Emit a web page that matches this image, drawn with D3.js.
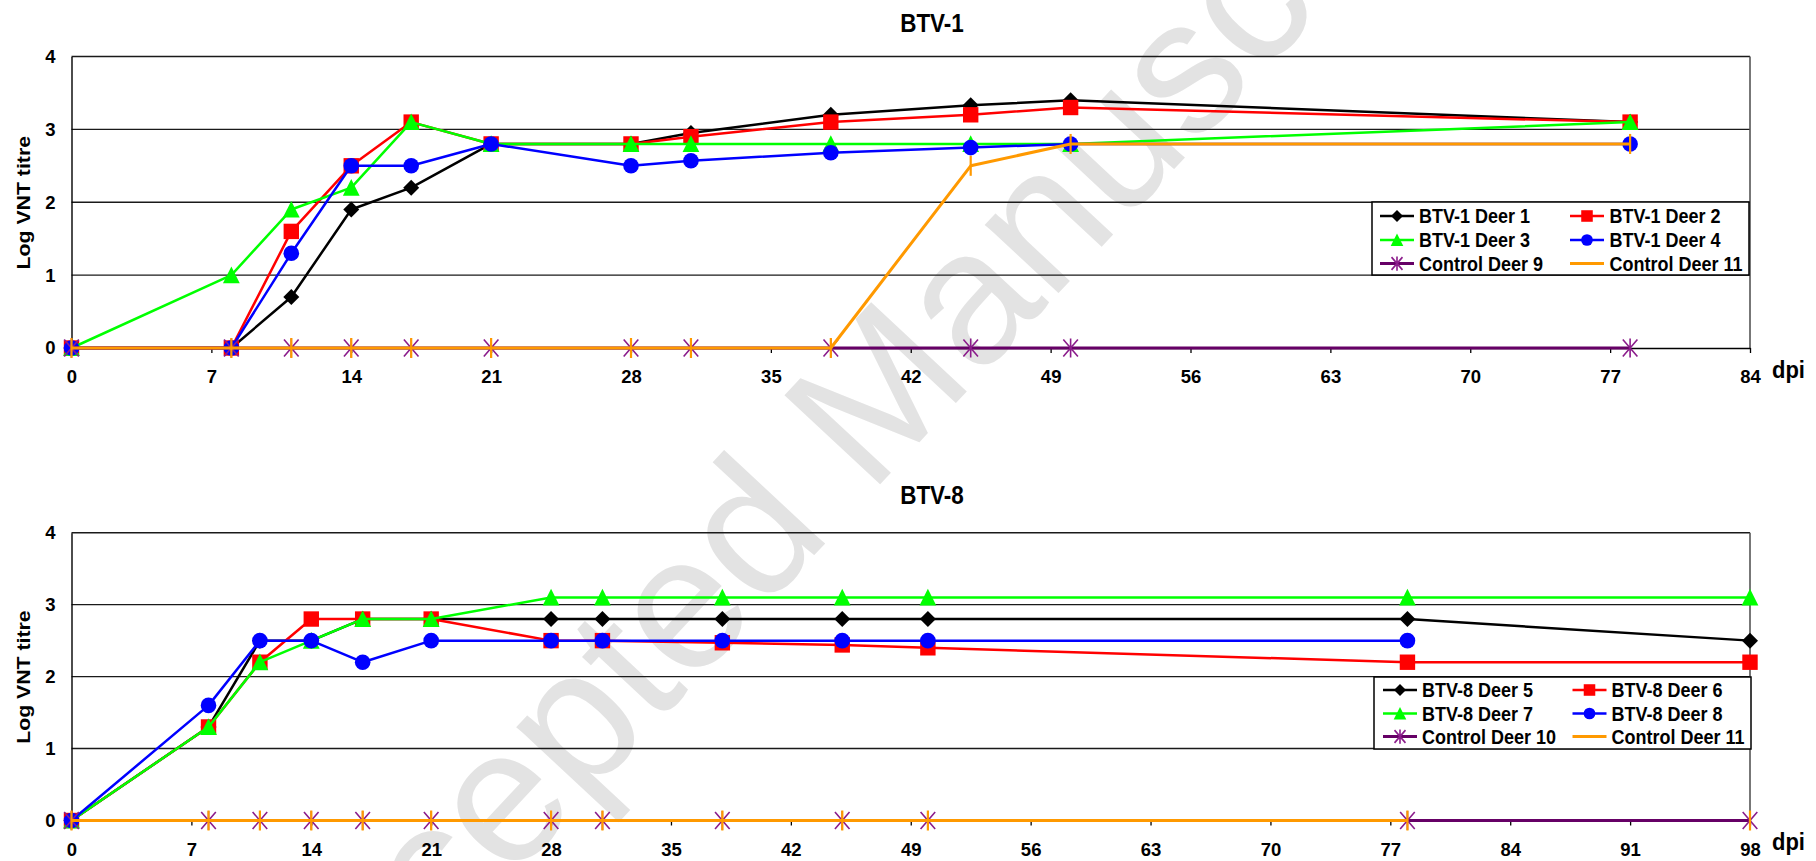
<!DOCTYPE html>
<html>
<head>
<meta charset="utf-8">
<script src="https://cdn.jsdelivr.net/npm/d3@7/dist/d3.min.js"></script>
<style>
  html, body { margin: 0; padding: 0; background: #ffffff; }
  svg { display: block; }
  text { font-family: "Liberation Sans", Arial, sans-serif; font-weight: bold; fill: #000; }
</style>
</head>
<body>
<svg id="chart" width="1816" height="861"></svg>
<script>
// ---------- BTV-1 panel: sampling days (dpi) and log VNT titres ----------
const btv1Days      = [0, 8, 11, 14, 17, 21, 28, 31, 38, 45, 50, 78];
const btv1Deer1     = [0, 0, 0.7, 1.9, 2.2, 2.8, 2.8, 2.95, 3.2, 3.33, 3.4, 3.1];
const btv1Deer2     = [0, 0, 1.6, 2.5, 3.1, 2.8, 2.8, 2.9, 3.1, 3.2, 3.3, 3.1];
const btv1Deer3     = [0, 1.0, 1.9, 2.2, 3.1, 2.8, 2.8, 2.8, 2.8, 2.8, 2.8, 3.1];
const btv1Deer4     = [0, 0, 1.3, 2.5, 2.5, 2.8, 2.5, 2.57, 2.68, 2.75, 2.8, 2.8];
const btv1Control9  = [0, 0, 0, 0, 0, 0, 0, 0, 0, 0, 0, 0];
const btv1Control11 = [0, 0, 0, 0, 0, 0, 0, 0, 0, 2.5, 2.8, 2.8];
const btv1XTicks    = [0, 7, 14, 21, 28, 35, 42, 49, 56, 63, 70, 77, 84];

// ---------- BTV-8 panel ----------
const btv8Days      = [0, 8, 11, 14, 17, 21, 28, 31, 38, 45, 50, 78, 98];
const btv8Deer5     = [0, 1.3, 2.5, 2.5, 2.8, 2.8, 2.8, 2.8, 2.8, 2.8, 2.8, 2.8, 2.5];
const btv8Deer6     = [0, 1.3, 2.2, 2.8, 2.8, 2.8, 2.5, 2.5, 2.47, 2.44, 2.4, 2.2, 2.2];
const btv8Deer7     = [0, 1.3, 2.2, 2.5, 2.8, 2.8, 3.1, 3.1, 3.1, 3.1, 3.1, 3.1, 3.1];
const btv8Deer8     = [0, 1.6, 2.5, 2.5, 2.2, 2.5, 2.5, 2.5, 2.5, 2.5, 2.5, 2.5, null];
const btv8Control10 = [0, 0, 0, 0, 0, 0, 0, 0, 0, 0, 0, 0, 0];
const btv8Control11 = [0, 0, 0, 0, 0, 0, 0, 0, 0, 0, 0, 0, 0];
const btv8XTicks    = [0, 7, 14, 21, 28, 35, 42, 49, 56, 63, 70, 77, 84, 91, 98];

const yTicks = [0, 1, 2, 3, 4];

// ---------- series styling ----------
const BLACK = "#000000", RED = "#ff0000", GREEN = "#00ff00", BLUE = "#0000ff";
const PURPLE_LINE = "#660066", PURPLE_MARK = "#8b1c8b", ORANGE = "#ff9900";

const panels = [
  {
    title: "BTV-1",
    days: btv1Days,
    xMax: 84,
    xTicks: btv1XTicks,
    top: 56.5, bottom: 348,
    titleY: 31.5,
    labelBaseline: 383,
    series: [
      { name: "BTV-1 Deer 1",     values: btv1Deer1,     color: BLACK,  marker: "diamond" },
      { name: "BTV-1 Deer 2",     values: btv1Deer2,     color: RED,    marker: "square" },
      { name: "BTV-1 Deer 3",     values: btv1Deer3,     color: GREEN,  marker: "triangle" },
      { name: "BTV-1 Deer 4",     values: btv1Deer4,     color: BLUE,   marker: "circle" },
      { name: "Control Deer 9",   values: btv1Control9,  color: PURPLE_LINE, markColor: PURPLE_MARK, marker: "asterisk", width: 3 },
      { name: "Control Deer 11",  values: btv1Control11, color: ORANGE, marker: "bar", width: 3 }
    ],
    legend: { x: 1372, y: 202, w: 377, h: 73, rowY: [216, 240, 263.5], colLine: [1380, 1570], colText: [1419, 1609.5] }
  },
  {
    title: "BTV-8",
    days: btv8Days,
    xMax: 98,
    xTicks: btv8XTicks,
    top: 532.7, bottom: 820.5,
    titleY: 504,
    labelBaseline: 855,
    series: [
      { name: "BTV-8 Deer 5",     values: btv8Deer5,     color: BLACK,  marker: "diamond" },
      { name: "BTV-8 Deer 6",     values: btv8Deer6,     color: RED,    marker: "square" },
      { name: "BTV-8 Deer 7",     values: btv8Deer7,     color: GREEN,  marker: "triangle" },
      { name: "BTV-8 Deer 8",     values: btv8Deer8,     color: BLUE,   marker: "circle" },
      { name: "Control Deer 10",  values: btv8Control10, color: PURPLE_LINE, markColor: PURPLE_MARK, marker: "asterisk", width: 3 },
      // no reading between 78 and 98 dpi, so the line breaks there
      { name: "Control Deer 11",  values: btv8Control11, color: ORANGE, marker: "bar", width: 3, breakAfterDay: 78 }
    ],
    legend: { x: 1374, y: 677, w: 377, h: 72, rowY: [690, 713.5, 736.5], colLine: [1383, 1572.5], colText: [1422, 1611.5] }
  }
];

const PLOT_LEFT = 71.5, PLOT_RIGHT = 1750;

const svg = d3.select("#chart");

// ---------- watermark ----------
svg.append("text")
  .attr("transform", "translate(850,420) rotate(-47)")
  .attr("text-anchor", "middle")
  .attr("dominant-baseline", "central")
  .style("font-weight", "normal")
  .style("font-size", "190px")
  .style("fill", "#e3e3e3")
  .text("Accepted Manuscript");

// ---------- marker shapes ----------
function drawMarker(g, type, color, s) {
  switch (type) {
    case "diamond":
      g.append("path").attr("d", `M0,${-8 * s}L${8 * s},0L0,${8 * s}L${-8 * s},0Z`).attr("fill", color);
      break;
    case "square":
      g.append("rect").attr("x", -7.7 * s).attr("y", -7.7 * s)
        .attr("width", 15.4 * s).attr("height", 15.4 * s).attr("fill", color);
      break;
    case "triangle":
      g.append("path").attr("d", `M0,${-8.6 * s}L${8.4 * s},${8 * s}L${-8.4 * s},${8 * s}Z`).attr("fill", color);
      break;
    case "circle":
      g.append("circle").attr("r", 7.8 * s).attr("fill", color);
      break;
    case "asterisk":
      g.append("path")
        .attr("d", `M${-7.3 * s},${-8.5 * s}L${7.3 * s},${8.5 * s}M${7.3 * s},${-8.5 * s}L${-7.3 * s},${8.5 * s}M0,${-9.5 * s}L0,${9.5 * s}`)
        .attr("stroke", color).attr("stroke-width", 1.6).attr("fill", "none");
      break;
    case "bar":
      g.append("path").attr("d", `M0,${-10 * s}L0,${10 * s}`)
        .attr("stroke", color).attr("stroke-width", 2.2).attr("fill", "none");
      break;
  }
}

// text with the slightly tall glyph proportions of the chart lettering
function tallText(parent, x, y, str, size, stretch, anchor) {
  return parent.append("text")
    .attr("transform", `translate(${x},${y}) scale(1,${stretch})`)
    .attr("text-anchor", anchor || "start")
    .style("font-size", size + "px")
    .text(str);
}

panels.forEach(p => {
  const x = d3.scaleLinear().domain([0, p.xMax]).range([PLOT_LEFT, PLOT_RIGHT]);
  const y = d3.scaleLinear().domain([0, 4]).range([p.bottom, p.top]);
  const g = svg.append("g");

  // horizontal gridlines (1..4)
  g.append("g").selectAll("line")
    .data(yTicks.filter(v => v > 0))
    .join("line")
    .attr("x1", PLOT_LEFT).attr("x2", PLOT_RIGHT)
    .attr("y1", d => y(d)).attr("y2", d => y(d))
    .attr("stroke", "#1a1a1a").attr("stroke-width", 1.4);

  // right frame edge
  g.append("line")
    .attr("x1", PLOT_RIGHT).attr("x2", PLOT_RIGHT)
    .attr("y1", p.top).attr("y2", p.bottom)
    .attr("stroke", "#555").attr("stroke-width", 1.6);

  // x axis
  const xAxis = d3.axisBottom(x).tickValues(p.xTicks).tickFormat(d3.format("d"))
    .tickSize(5).tickSizeOuter(0).tickPadding(17);
  const xg = g.append("g").attr("transform", `translate(0,${p.bottom})`).call(xAxis);
  xg.select(".domain").attr("stroke", "#000").attr("stroke-width", 1.4);
  xg.selectAll(".tick line").attr("stroke", "#000").attr("stroke-width", 1.3);
  xg.selectAll(".tick text").attr("fill", "#000")
    .style("font-family", '"Liberation Sans", Arial, sans-serif')
    .style("font-weight", "bold").style("font-size", "18.5px");

  // y axis
  const yAxis = d3.axisLeft(y).tickValues(yTicks).tickFormat(d3.format("d"))
    .tickSize(0).tickSizeOuter(0).tickPadding(16);
  const yg = g.append("g").attr("transform", `translate(${PLOT_LEFT},0)`).call(yAxis);
  yg.select(".domain").attr("stroke", "#000").attr("stroke-width", 1.4);
  yg.selectAll(".tick text").attr("fill", "#000")
    .style("font-family", '"Liberation Sans", Arial, sans-serif')
    .style("font-weight", "bold").style("font-size", "18.5px");

  // axis titles
  g.append("text")
    .attr("transform", `translate(23,${(p.top + p.bottom) / 2 + 0.5}) rotate(-90) scale(1.12,1)`)
    .attr("text-anchor", "middle")
    .attr("dominant-baseline", "central")
    .style("font-size", "19px")
    .text("Log VNT titre");
  tallText(g, 1772, p.labelBaseline - 5.5, "dpi", 22, 1.08, "start");

  // chart title
  tallText(g, 932, p.titleY, p.title, 22.5, 1.12, "middle");

  // series: line first, then markers, one series at a time
  const line = d3.line().defined(d => d.v != null).x(d => x(d.day)).y(d => y(d.v));
  p.series.forEach(s => {
    const pts = [];
    p.days.forEach((day, i) => {
      pts.push({ day, v: s.values[i] });
      if (s.breakAfterDay === day) pts.push({ day, v: null });
    });
    g.append("path")
      .attr("d", line(pts))
      .attr("fill", "none")
      .attr("stroke", s.color)
      .attr("stroke-width", s.width || 2.5)
      .attr("stroke-linejoin", "round");
    pts.filter(d => d.v != null).forEach(d => {
      const mg = g.append("g").attr("transform", `translate(${x(d.day)},${y(d.v)})`);
      drawMarker(mg, s.marker, s.markColor || s.color, 1);
    });
  });

  // legend
  const L = p.legend;
  const lg = g.append("g");
  lg.append("rect")
    .attr("x", L.x).attr("y", L.y).attr("width", L.w).attr("height", L.h)
    .attr("fill", "#fff").attr("stroke", "#000").attr("stroke-width", 1.5);
  p.series.forEach((s, i) => {
    const row = Math.floor(i / 2), col = i % 2;
    const ly = L.rowY[row];
    const lx = L.colLine[col];
    lg.append("line")
      .attr("x1", lx).attr("x2", lx + 34)
      .attr("y1", ly).attr("y2", ly)
      .attr("stroke", s.color).attr("stroke-width", s.width || 2.5);
    if (s.marker !== "bar") {
      const mg = lg.append("g").attr("transform", `translate(${lx + 17},${ly})`);
      drawMarker(mg, s.marker, s.markColor || s.color, 0.75);
    }
    tallText(lg, L.colText[col], ly + 7, s.name, 18, 1.1, "start");
  });
});
</script>
</body>
</html>
